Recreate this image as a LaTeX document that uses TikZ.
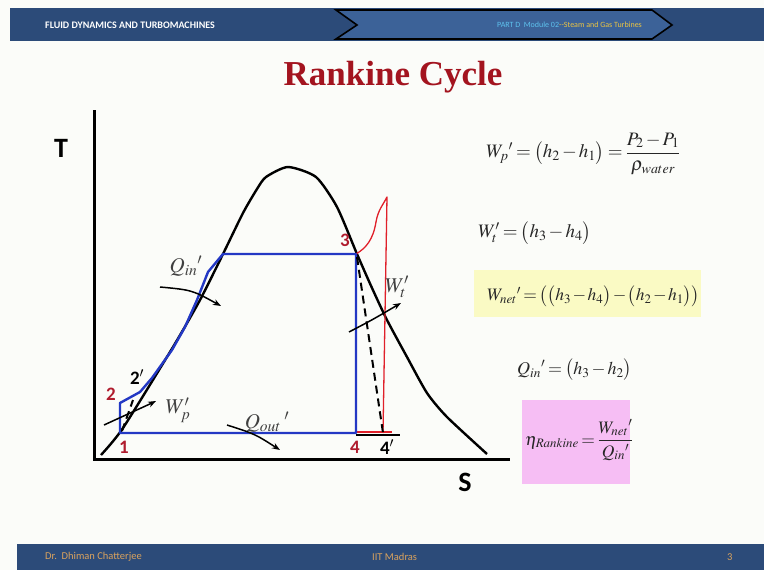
\documentclass[tikz,border=0pt]{standalone}
\usepackage{amsmath}
\usepackage{mathptmx}
\usepackage[no-math]{fontspec}
\setmainfont{Liberation Serif}
\newfontfamily\hdrfont{Carlito}
\usetikzlibrary{arrows.meta}
\newcommand\tightmath{\medmuskip=2mu\relax\thickmuskip=3mu\relax}
\newcommand\tightermath{\medmuskip=1.5mu\relax\thickmuskip=2.5mu\relax}
\definecolor{bgc}{HTML}{FBFCF9}
\definecolor{barblue}{HTML}{2C4B79}
\definecolor{chevblue}{HTML}{3C6298}
\definecolor{partblue}{HTML}{5EC2EE}
\definecolor{gold}{HTML}{EBC443}
\definecolor{footc}{HTML}{D9A25E}
\definecolor{titlered}{HTML}{A3141F}
\definecolor{lblred}{HTML}{B01C2E}
\definecolor{cycblue}{HTML}{2338C4}
\definecolor{cred}{HTML}{E0202A}
\definecolor{yelbox}{HTML}{FAFAC4}
\definecolor{pinkbox}{HTML}{F6BEF4}
\tikzset{
  hdrtext/.style={font=\hdrfont\fontsize{10}{11}\selectfont, text=white, inner sep=0pt},
  foottext/.style={font=\hdrfont\fontsize{10.5}{12}\selectfont, text=footc, inner sep=0pt},
  ptlbl/.style={font=\hdrfont\bfseries\fontsize{19}{20}\selectfont, text=lblred, inner sep=0pt},
  ptlblk/.style={font=\hdrfont\bfseries\fontsize{19}{20}\selectfont, text=black, inner sep=0pt},
  axlbl/.style={font=\hdrfont\bfseries\fontsize{28}{30}\selectfont, inner sep=0pt},
  eq/.style={font=\fontsize{19}{23}\selectfont, inner sep=0pt, text=black!85},
  mlbl/.style={font=\fontsize{21}{25}\selectfont, inner sep=0pt, text=black!75},
  axis/.style={line width=3pt, black},
  dome/.style={line width=2.4pt, black, line join=round},
  cyc/.style={line width=2.4pt, cycblue, line join=round},
  redl/.style={line width=1.3pt, cred, line join=round},
  dashl/.style={line width=2pt, black, dash pattern=on 8pt off 5pt},
  arr/.style={line width=1.5pt, black, -{Stealth[length=8pt,width=6pt]}},
}
\begin{document}
\begin{tikzpicture}[x=1pt,y=-1pt]
\fill[bgc] (0,0) rectangle (764,570);
\useasboundingbox (0,0) rectangle (764,570);
% header
\fill[barblue] (10,8) rectangle (764,41);
\draw[fill=chevblue, line width=1.6pt, draw=black] (336,10) -- (652,10) -- (672,25) -- (652,39) -- (336,39) -- (357,25) -- cycle;
\node[hdrtext, anchor=west, font=\hdrfont\bfseries\fontsize{10}{11}\selectfont] (hdr) at (45,25) {FLUID DYNAMICS AND TURBOMACHINES};
\node[hdrtext, anchor=west, font=\hdrfont\fontsize{8}{10}\selectfont] (part) at (497,25) {\textcolor{partblue}{PART D\ \ Module 02}\textcolor{gold}{--Steam and Gas Turbines}};
% footer
\fill[barblue] (17,544) rectangle (764,570);
\node[foottext, anchor=west] (f1) at (45,557) {Dr.\ \ Dhiman Chatterjee};
\node[foottext, anchor=west] (f2) at (372,557) {IIT Madras};
\node[foottext, anchor=west] (f3) at (727,557) {3};
% title
\node[font=\bfseries\fontsize{35}{40}\selectfont, text=titlered, inner sep=0pt] (title) at (393,77) {Rankine Cycle};
% axes
\coordinate (Ttop) at (94,110);
\coordinate (O) at (94,459);
\coordinate (Send) at (510,459);
\draw[axis] (Ttop) -- (O) -- (Send);
\node[axlbl] (T) at (61,148) {T};
\node[axlbl] (S) at (465,482) {S};
% dome
\draw[dome] plot[smooth, tension=0.4] coordinates {(101,455) (123,428) (173,347) (200,300) (223,254) (243,213) (257,189) (266,177) (288,167) (316,177) (337,207) (357,254) (372,288) (387,320) (407,357) (427,393) (447,417) (487,454)};
% cycle points
\coordinate (p1) at (120,433);
\coordinate (p2) at (120,403);
\coordinate (p2s) at (133,400);
\coordinate (p3) at (356,254);
\coordinate (p4) at (356,433);
\coordinate (p4s) at (383,433);
\coordinate (sat) at (223,254);
% black line at 4-4'
\draw[line width=2.5pt, black] (p4) ++(0,2) -- ++(44,0) coordinate (hend);
% red superheat
\draw[redl] (p3) .. controls (366,248) and (373,240) .. (376,222) .. controls (378,210) and (383,205) .. (387,197) coordinate (rtop) -- (p4s);
\draw[redl] (p4) ++(0,-1) -- ++(36,0);
% blue cycle
\draw[cyc] (p1) -- (p2) -- (140,392) -- (152,378) -- (172,350) -- (185,327) -- (197,300) -- (208,272) -- (sat) -- (p3) -- (p4) -- cycle;
% dashed lines
\draw[dashl] (p1) ++(2,-2) -- (p2s);
\draw[dashl] (p3) ++(1,3) -- (p4s);
% point labels
\node[ptlbl] (l1) at (124,447) {1};
\node[ptlbl] (l2) at (111,394) {2};
\node[ptlblk] (l2s) at (137,377) {2$'$};
\node[ptlbl] (l3) at (345,240) {3};
\node[ptlbl] (l4) at (355,447) {4};
\node[ptlblk] (l4s) at (387,447) {4$'$};
% process labels & arrows
\node[mlbl] (qin) at (186,266) {$Q_{in}{}^{\prime}$};
\coordinate (qa1) at (160,287); \coordinate (qa2) at (221,306);
\draw[arr] (qa1) .. controls (192,290) .. (qa2);
\node[mlbl] (wp) at (178,410) {$W_p'$};
\coordinate (wa1) at (104,425); \coordinate (wa2) at (156,401);
\draw[arr] (wa1) .. controls (128,415) .. (wa2);
\node[mlbl] (qout) at (267,422) {$Q_{out}{}^{\;\prime}$};
\coordinate (oa1) at (227,425); \coordinate (oa2) at (280,450);
\draw[arr] (oa1) .. controls (255,434) .. (oa2);
\node[mlbl] (wt) at (397,287) {$W_t'$};
\coordinate (ta1) at (349,332); \coordinate (ta2) at (401,303);
\draw[arr] (ta1) .. controls (372,320) .. (ta2);
% equations
\node[eq, anchor=west] (eq1) at (486,154) {$\tightmath W_{p}{}^{\prime} = \bigl(h_2 - h_1\bigr) = \dfrac{P_2 - P_1}{\rho_{water}}$};
\node[eq, anchor=west] (eq2) at (478,233) {$\tightmath W_{t}' = \bigl(h_3 - h_4\bigr)$};
\fill[yelbox] (474,270) rectangle (701,317);
\node[eq, anchor=west, font=\fontsize{17.5}{22}\selectfont] (eq3) at (487,296) {$\tightermath W_{net}{}^{\prime} = \bigl(\bigl(h_3 - h_4\bigr) - \bigl(h_2 - h_1\bigr)\bigr)$};
\node[eq, anchor=west, font=\fontsize{18}{22}\selectfont] (eq4) at (517,370) {$\tightmath Q_{in}{}^{\prime} = \bigl(h_3 - h_2\bigr)$};
\fill[pinkbox] (522,400) rectangle (630,484);
\node[eq, anchor=west, font=\fontsize{17.5}{22}\selectfont] (eq5) at (525,440) {$\tightermath \eta_{Rankine} = \dfrac{W_{net}{}^{\prime}}{Q_{in}{}^{\prime}}$};
\end{tikzpicture}
\end{document}
